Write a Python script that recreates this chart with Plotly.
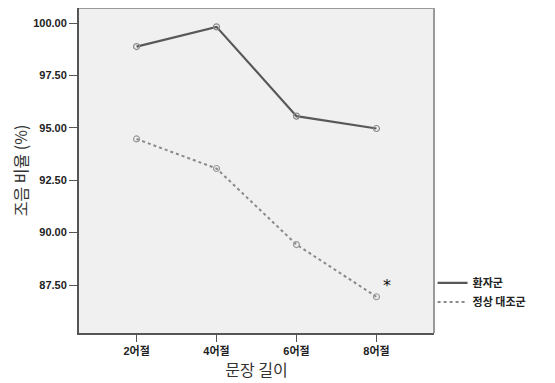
import plotly.graph_objects as go

categories = ["2어절", "4어절", "6어절", "8어절"]
patient_values = [98.88, 99.82, 95.56, 94.97]
control_values = [94.47, 93.06, 89.43, 86.94]
series_names = ["환자군", "정상 대조군"]
y_tick_values = [87.5, 90.0, 92.5, 95.0, 97.5, 100.0]
y_tick_labels = ["87.50", "90.00", "92.50", "95.00", "97.50", "100.00"]

KR = "Noto Sans CJK KR"
TICKFONT = dict(family="Liberation Sans, " + KR, size=11, color="#222222", weight="bold")
styles = [
    dict(line=dict(color="#585858", width=2.2),
         marker=dict(symbol="circle-open", size=6, color="#8a8a8a", line=dict(width=1.2))),
    dict(line=dict(color="#8a8a8a", width=2, dash="dot"),
         marker=dict(symbol="circle-open", size=6, color="#9a9a9a", line=dict(width=1.2))),
]

fig = go.Figure()
for name, vals, st in zip(series_names, [patient_values, control_values], styles):
    fig.add_trace(go.Scatter(x=categories, y=vals, name=name, mode="lines+markers",
                             line=st["line"], marker=st["marker"], showlegend=False))
# legend entries (line only, as in the reference)
for name, st in zip(series_names, styles):
    fig.add_trace(go.Scatter(x=[None], y=[None], name=name, mode="lines",
                             line=st["line"], showlegend=True))

fig.add_annotation(x=categories[3], y=control_values[3], text="*", showarrow=False,
                   xshift=11, yshift=11, font=dict(family="DejaVu Sans", size=16, color="#111111"))

# page body has an 8px margin, so the figure is sized 8px smaller than the window
fig.update_layout(
    width=547, height=375,
    margin=dict(l=71, r=121, t=0, b=50),
    paper_bgcolor="white",
    plot_bgcolor="#f0f0f0",
    showlegend=True,
    legend=dict(x=0.996, y=0.125, xanchor="left", yanchor="middle",
                font=dict(family=KR, size=11, color="#222222", weight="bold"),
                bgcolor="rgba(0,0,0,0)", itemwidth=30, tracegroupgap=0),
    xaxis=dict(
        type="category", range=[-0.72, 3.72], automargin=False,
        showgrid=False, zeroline=False,
        showline=True, linecolor="#555555", linewidth=2,
        ticks="outside", ticklen=7, tickwidth=1, tickcolor="#555555",
        tickfont=TICKFONT,
        title=dict(text="문장 길이", font=dict(family=KR, size=16, color="#333333"), standoff=4),
    ),
    yaxis=dict(
        range=[85.21, 100.72], automargin=False,
        tickvals=y_tick_values, ticktext=y_tick_labels,
        showgrid=False, zeroline=False,
        showline=True, linecolor="#555555", linewidth=2,
        ticks="outside", ticklen=8, tickwidth=1, tickcolor="#555555",
        tickfont=TICKFONT,
        title=dict(text="조음 비율 (%)", font=dict(family=KR, size=16, color="#333333"), standoff=8),
    ),
)

fig.add_shape(type="line", xref="paper", yref="paper", x0=0, x1=1, y0=1, y1=1,
              line=dict(color="#9a9a9a", width=2))
fig.add_shape(type="line", xref="paper", yref="paper", x0=1, x1=1, y0=0, y1=1,
              line=dict(color="#9a9a9a", width=2))

fig.write_html("out.html")
